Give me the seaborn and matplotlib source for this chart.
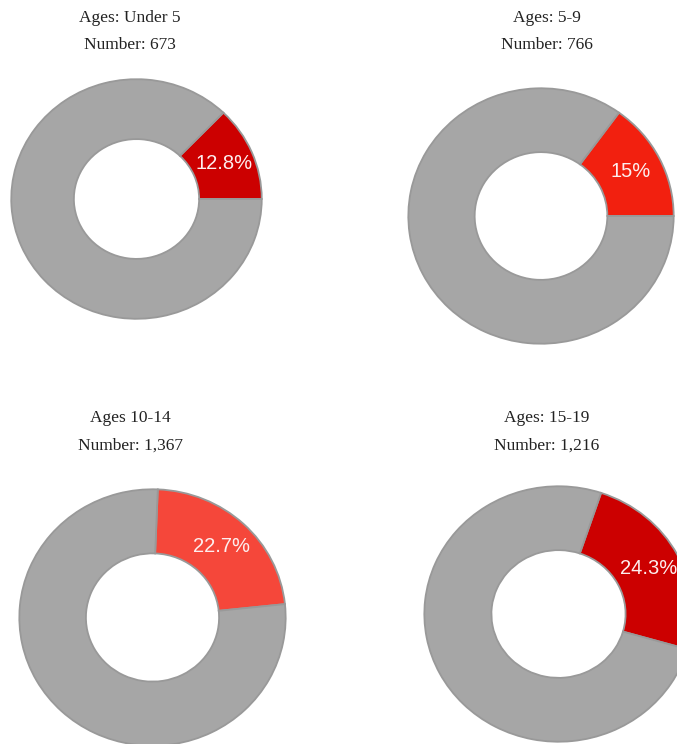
import numpy as np
import matplotlib
matplotlib.use("Agg")
import matplotlib.pyplot as plt
import seaborn as sns

# Share of each age group (red slice) and group size
age_titles = ["Ages: Under 5", "Ages: 5-9", "Ages 10-14", "Ages: 15-19"]
numbers = ["673", "766", "1,367", "1,216"]
shares = [12.8, 15.0, 22.7, 24.3]
share_labels = ["12.8%", "15%", "22.7%", "24.3%"]
red_colors = ["#cc0000", "#f2200f", "#f5473a", "#cc0000"]
start_angles = [0, 0, 6, -16]

sns.set_theme(style="white")

W, H = 677, 744
fig = plt.figure(figsize=(W / 100, H / 100), dpi=100)
fig.patch.set_facecolor("white")

# donut boxes in pixels: (left, top, right, bottom)
boxes = [(10, 78, 263, 320), (407, 87, 675, 345), (18, 488, 287, 747), (423, 485, 694, 743)]
title_pos = [(130, 18, 45), (547, 18, 45), (130, 418, 446), (547, 418, 446)]

for i in range(4):
    l, t, r, b = boxes[i]
    ax = fig.add_axes([l / W, 1 - b / H, (r - l) / W, (b - t) / H])
    wedges, _ = ax.pie([shares[i], 100 - shares[i]],
                       colors=[red_colors[i], "#a6a6a6"],
                       startangle=start_angles[i], counterclock=True,
                       radius=1.0,
                       wedgeprops=dict(width=0.5, edgecolor="#999999", linewidth=1.3))
    ax.set_aspect("auto")
    ax.set_xlim(-1.01, 1.01)
    ax.set_ylim(-1.01, 1.01)
    ax.axis("off")

    red = wedges[0]
    mid = np.deg2rad((red.theta1 + red.theta2) / 2)
    ax.text(0.76 * np.cos(mid), 0.76 * np.sin(mid), share_labels[i],
            ha="center", va="center", color="#fdeeee", fontsize=14.5,
            family="Liberation Sans")

    cx, y1, y2 = title_pos[i]
    fig.text(cx / W, 1 - y1 / H, age_titles[i], ha="center", va="center",
             fontsize=12.5, color="#222222", family="Liberation Serif")
    fig.text(cx / W, 1 - y2 / H, "Number: " + numbers[i], ha="center", va="center",
             fontsize=12.5, color="#222222", family="Liberation Serif")

fig.savefig("out.png", dpi=100)
